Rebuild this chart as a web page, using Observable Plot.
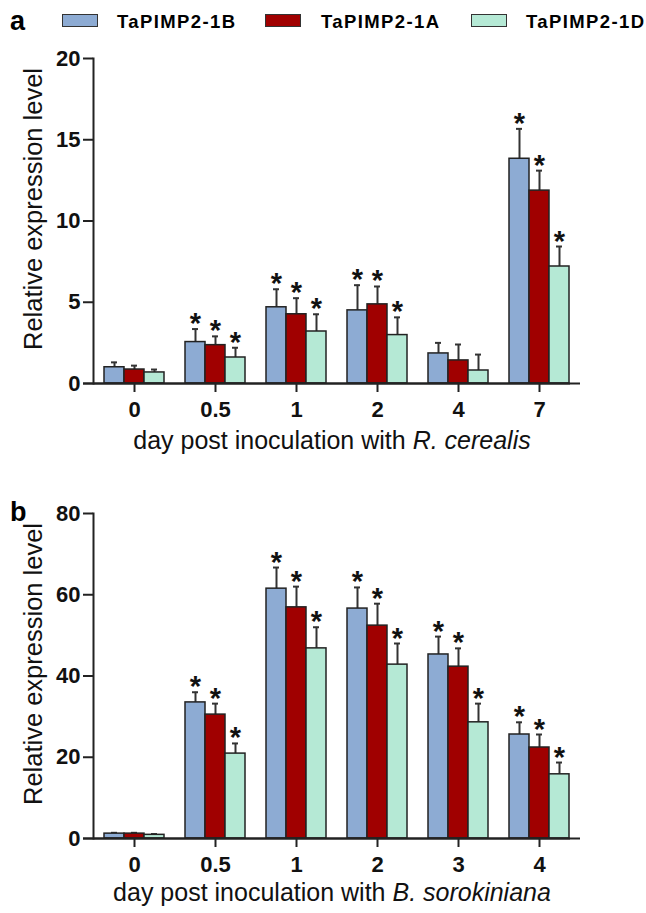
<!DOCTYPE html>
<html>
<head>
<meta charset="utf-8">
<script src="https://cdn.jsdelivr.net/npm/d3@7"></script>
<script src="https://cdn.jsdelivr.net/npm/@observablehq/plot@0.6"></script>
<style>
  html, body { margin: 0; padding: 0; background: #fff; }
  #page { position: relative; width: 646px; height: 913px; font-family: 'Liberation Sans', Arial, sans-serif; overflow: hidden; }
  .panel-label { position: absolute; font-weight: bold; font-size: 27px; line-height: 1; }
  .leg-sw { position: absolute; width: 34px; height: 11px; border: 1.5px solid #333; }
  .leg-tx { position: absolute; font-weight: bold; font-size: 18.5px; letter-spacing: 1.4px; line-height: 1; }
  .chart { position: absolute; left: 0; }
</style>
</head>
<body>
<div id="page"></div>
<script>
// ---- data ----
const seriesNames = ["TaPIMP2-1B", "TaPIMP2-1A", "TaPIMP2-1D"];
const seriesColors = ["#8dabd3", "#a00000", "#b5e9d5"];

// Panel a: R. cerealis
const daysA = ["0", "0.5", "1", "2", "4", "7"];
const a1B = [1.0, 2.55, 4.69, 4.5, 1.85, 13.83];
const a1A = [0.86, 2.36, 4.26, 4.87, 1.42, 11.87];
const a1D = [0.68, 1.6, 3.2, 2.98, 0.8, 7.2];
const a1BErr = [0.3, 0.8, 1.11, 1.55, 0.65, 1.84];
const a1AErr = [0.24, 0.54, 0.99, 1.1, 0.98, 1.23];
const a1DErr = [0.18, 0.6, 1.06, 1.09, 0.98, 1.23];
const aSig = [false, true, true, true, false, true];
const aTicks = [0, 5, 10, 15, 20];

// Panel b: B. sorokiniana
const daysB = ["0", "0.5", "1", "2", "3", "4"];
const b1B = [1.2, 33.5, 61.5, 56.6, 45.3, 25.6];
const b1A = [1.2, 30.5, 56.9, 52.4, 42.3, 22.4];
const b1D = [0.9, 20.9, 46.8, 42.8, 28.6, 15.8];
const b1BErr = [0.2, 2.5, 5.2, 5.2, 4.4, 3.0];
const b1AErr = [0.2, 2.7, 5.1, 5.4, 4.5, 3.2];
const b1DErr = [0.2, 2.5, 5.2, 5.2, 4.6, 2.9];
const bSig = [false, true, true, true, true, true];
const bTicks = [0, 20, 40, 60, 80];

const page = document.getElementById("page");

function addDiv(cls, style, text) {
  const d = document.createElement("div");
  d.className = cls;
  Object.assign(d.style, style);
  if (text != null) d.textContent = text;
  page.appendChild(d);
  return d;
}

// panel labels
addDiv("panel-label", {left: "10px", top: "8px"}, "a");
addDiv("panel-label", {left: "10px", top: "499px"}, "b");

// legend
const legSw = [62, 265, 471];
const legTx = [117, 321, 526];
seriesNames.forEach((n, i) => {
  addDiv("leg-sw", {left: legSw[i] + "px", top: "14px", background: seriesColors[i]});
  addDiv("leg-tx", {left: legTx[i] + "px", top: "13px"}, n);
});

function buildPanel(days, vals, errs, sig, yMax, ticks, organism, height, marginBottom, titleDy) {
  const rows = [];
  vals.forEach((arr, i) => {
    arr.forEach((v, j) => rows.push({day: days[j], s: i, value: v, err: errs[i][j], sig: sig[j]}));
  });
  const marks = [];
  for (let i = 0; i < 3; i++) {
    const r = rows.filter(d => d.s === i);
    const off = (i - 1) * 20;
    marks.push(Plot.ruleX(r, {x: "day", y1: "value", y2: d => d.value + d.err, dx: off, stroke: "#333", strokeWidth: 2}));
    marks.push(Plot.tickY(r, {x: "day", y: d => d.value + d.err, dx: off, insetLeft: 27, insetRight: 27, stroke: "#333", strokeWidth: 2}));
    marks.push(Plot.barY(r, {x: "day", y: "value", fill: seriesColors[i], stroke: "#222", strokeWidth: 1.5,
      insetLeft: i * 20, insetRight: (2 - i) * 20}));
    marks.push(Plot.text(r.filter(d => d.sig), {x: "day", y: d => d.value + d.err, dx: off, text: () => "*",
      lineAnchor: "bottom", dy: 4, fontSize: 29, fontWeight: "bold", fill: "#111"}));
  }
  marks.push(Plot.ruleY([0], {stroke: "#222", strokeWidth: 2}));
  marks.push(Plot.ruleY([0], {stroke: "#222", strokeWidth: 2, dx: -10}));
  marks.push(Plot.frame({anchor: "left", stroke: "#222", strokeWidth: 2}));
  marks.push(Plot.axisY({ticks: ticks, tickSize: 10, tickPadding: 3, label: null, fontSize: 22, fontWeight: "bold",
    stroke: "#222", strokeWidth: 2, fill: "#111"}));
  marks.push(Plot.axisX({tickSize: 9, tickPadding: 9, label: null, fontSize: 22, fontWeight: "bold",
    stroke: "#222", strokeWidth: 2, fill: "#111"}));
  marks.push(Plot.text([0], {frameAnchor: "left", text: () => "Relative expression level", rotate: -90,
    textAnchor: "middle", lineAnchor: "middle", dx: -60, dy: -12, fontSize: 25.5, fill: "#111"}));
  marks.push(Plot.text([0], {frameAnchor: "bottom", text: () => "day post inoculation with " + organism,
    textAnchor: "middle", dy: titleDy, dx: -5, fontSize: 25, fill: "#111"}));

  const svg = Plot.plot({
    width: 646,
    height: height,
    marginLeft: 93,
    marginRight: 66,
    marginTop: 18,
    marginBottom: marginBottom,
    style: {fontFamily: "'Liberation Sans', Arial, sans-serif", background: "transparent", overflow: "visible"},
    x: {type: "band", domain: days, paddingInner: 0.26, paddingOuter: 0.13, axis: null},
    y: {domain: [0, yMax], axis: null},
    marks
  });
  // italicize organism name
  svg.querySelectorAll("text").forEach(t => {
    if (t.textContent === "day post inoculation with " + organism) {
      t.textContent = "";
      const t1 = document.createElementNS("http://www.w3.org/2000/svg", "tspan");
      t1.textContent = "day post inoculation with ";
      const t2 = document.createElementNS("http://www.w3.org/2000/svg", "tspan");
      t2.setAttribute("font-style", "italic");
      t2.textContent = organism;
      t.appendChild(t1);
      t.appendChild(t2);
    }
  });
  return svg;
}

const svgA = buildPanel(daysA, [a1B, a1A, a1D], [a1BErr, a1AErr, a1DErr], aSig, 20, aTicks, "R. cerealis", 430, 87, 65);
svgA.classList.add("chart");
svgA.style.top = "40px";
page.appendChild(svgA);

const svgB = buildPanel(daysB, [b1B, b1A, b1D], [b1BErr, b1AErr, b1DErr], bSig, 80, bTicks, "B. sorokiniana", 418, 75, 62);
svgB.classList.add("chart");
svgB.style.top = "495px";
page.appendChild(svgB);
</script>
</body>
</html>
